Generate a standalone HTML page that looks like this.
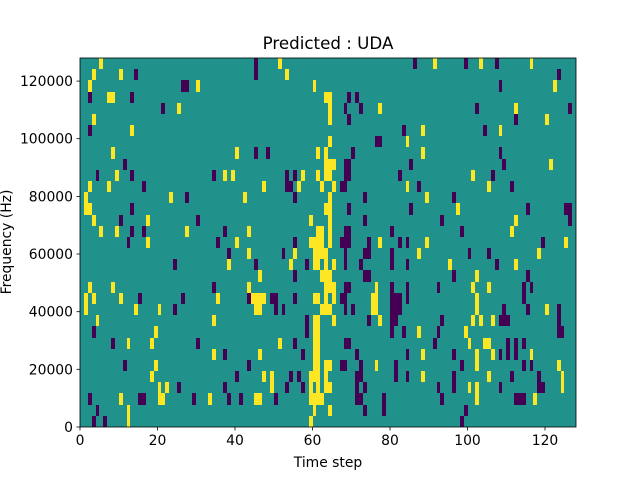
<!DOCTYPE html>
<html><head><meta charset="utf-8"><style>
html,body{margin:0;padding:0;background:#fff;}
svg text{font-family:"DejaVu Sans","Liberation Sans",sans-serif;fill:#000;}
</style></head><body>
<svg id="s" width="640" height="480" viewBox="0 0 640 480" xmlns="http://www.w3.org/2000/svg">
<rect x="0" y="0" width="640" height="480" fill="#fff"/>
<rect x="80" y="58" width="496" height="369" fill="#21918c"/>
<g id="cells" shape-rendering="crispEdges"></g>
<rect x="80" y="58" width="496" height="369" fill="none" stroke="#000" stroke-width="0.8"/>
<g stroke="#000" stroke-width="0.8">
<line x1="80" y1="427" x2="80" y2="430.5"/><line x1="157.5" y1="427" x2="157.5" y2="430.5"/><line x1="235" y1="427" x2="235" y2="430.5"/><line x1="312.5" y1="427" x2="312.5" y2="430.5"/><line x1="390" y1="427" x2="390" y2="430.5"/><line x1="467.5" y1="427" x2="467.5" y2="430.5"/><line x1="545" y1="427" x2="545" y2="430.5"/>
<line x1="76.5" y1="427" x2="80" y2="427"/><line x1="76.5" y1="369.3" x2="80" y2="369.3"/><line x1="76.5" y1="311.7" x2="80" y2="311.7"/><line x1="76.5" y1="254" x2="80" y2="254"/><line x1="76.5" y1="196.4" x2="80" y2="196.4"/><line x1="76.5" y1="138.7" x2="80" y2="138.7"/><line x1="76.5" y1="81.1" x2="80" y2="81.1"/>
</g>
<g font-size="13.9" text-anchor="middle">
<text x="80" y="445">0</text><text x="157.5" y="445">20</text><text x="235" y="445">40</text><text x="312.5" y="445">60</text><text x="390" y="445">80</text><text x="467.5" y="445">100</text><text x="545" y="445">120</text>
</g>
<g font-size="13.9" text-anchor="end">
<text x="73" y="432">0</text><text x="73" y="374.3">20000</text><text x="73" y="316.7">40000</text><text x="73" y="259">60000</text><text x="73" y="201.4">80000</text><text x="73" y="143.7">100000</text><text x="73" y="86.1">120000</text>
</g>
<text x="328" y="49" font-size="16.7" text-anchor="middle">Predicted : UDA</text>
<text x="328" y="467" font-size="13.9" text-anchor="middle">Time step</text>
<text transform="translate(11,242) rotate(-90)" font-size="13.9" text-anchor="middle">Frequency (Hz)</text>
</svg>
<script>
var rows=[
"y5 p45 y51 p86 y91 p99 y103 p107 y116",
"y3 y10 p14 p45 y53 p123",
"y2 p26-27 y30 y60 p108 y122",
"p2 y7-8 p13 y63 y64 p69 p71",
"p21 y25 y64 p68 p72 y77 p102 y112 p126",
"y3 y64 p69 p112 y120",
"p2 y13 p83 y88 p104 y108",
"y64 p76-77 y84",
"y8 y40 p45 p48 y61 y63 p70 y88 p108",
"p11 y63 y64-65 p68-69 p85 p109 y121",
"p4 y9 p13 p34 y37 y39 p53 p55 y57 y61 y63 y64 p68-69 p82 y101 p106",
"y2 y7 p16 y47 p53-54 y56 y62 y65 p67-68 y84 p87 y105 p111",
"y1 y23 p27 y42 p55 y64 p73 y89 p96",
"y1-2 p13 y63 y64 p69 p85 y97 p115 p125-126",
"y3 p10 y17 p30 y59 y64 p73 p93 y112 p126",
"y5 y9 p13 p16 y27 p37 y43 y61-62 y64 p68-69 p80 p98 y111",
"p12 y17 p35 y40 p55 y59-62 y64 p67-69 p74 y77 p82 p84 y89 p119 y125",
"p38 y43 p52 y55 y60-63 p68 p73-74 p80 y87 p100 p105 y118",
"p24 y38 p45 y54 p58 y60-61 y63 y65 p68 p72 p80 p84 y95 p107 y112",
"y46 p55 y62-63 y64 p73-74 p96 y102 p115",
"y2 y8 p34 y43 y63 y64-65 p68-69 y76 p80 p84 p92 y101 y105 p114 p116",
"y1 y3 y10 p15 p26 y35 p43 y44-47 p49-50 p55 y60-61 y63 y65 p67-68 y75-76 p80-82 p84 y102 p114",
"y1 y14 y20 p24 y45-46 p50 p52 y62-63 y64 p68 p70 y75-76 p80-82 y102 p109 p115 y120 p123",
"y4 y34 p58 y60-61 y65 p74 y77 p80-81 p93 y101 y103 y106 p108-110 p123",
"p3 y19 p58 y60-61 p80 p83 y87 p92 y99 p123-124",
"p8 y12 y18 p30 y51 p55 y60-61 p68-69 p91 y100 y104-105 p110 p112 p114",
"y34 p37 y46 p57 y60-61 p71 p84 y88 p96 y102 y106 p108 p110 p112 y116",
"p11 y19 p43 y60-61 y63 y64 p67-68 p72 y76 p81 p98 y102 p114 p116 y123",
"y18 p40 y47 y49 p54 p56 y59-61 y63 p71-72 p81 p84 y88 p96 y105 p111 p118 y124",
"y20 y22 p25 p37 y49 p53 p57 y59 y61 y63 y64 p71 p73 p92 p96 y100 y102 p108 p118-119 y124",
"p2 y10 p15-16 y20-21 p29 y33 p38 p41 y45-46 p50 y59-62 p71-72 p78 p93 y102 p112-114 y117",
"p4 y12 y60 y64 p73 p78 p99",
"p3 p6 y12 y59 p98"];
var g=document.getElementById('cells'),cw=496/128,rh=369/33,h='';
rows.forEach(function(r,i){r.split(' ').forEach(function(t){
var c=t[0]=='y'?'#fde725':'#440154',p=t.slice(1).split('-'),a=+p[0],b=p.length>1?+p[1]:a;
var x1=Math.round(80+a*cw),x2=Math.round(80+(b+1)*cw),y1=Math.round(58+i*rh),y2=Math.round(58+(i+1)*rh);
h+='<rect x="'+x1+'" y="'+y1+'" width="'+(x2-x1)+'" height="'+(y2-y1)+'" fill="'+c+'"/>';});});
g.innerHTML=h;
</script>
</body></html>
